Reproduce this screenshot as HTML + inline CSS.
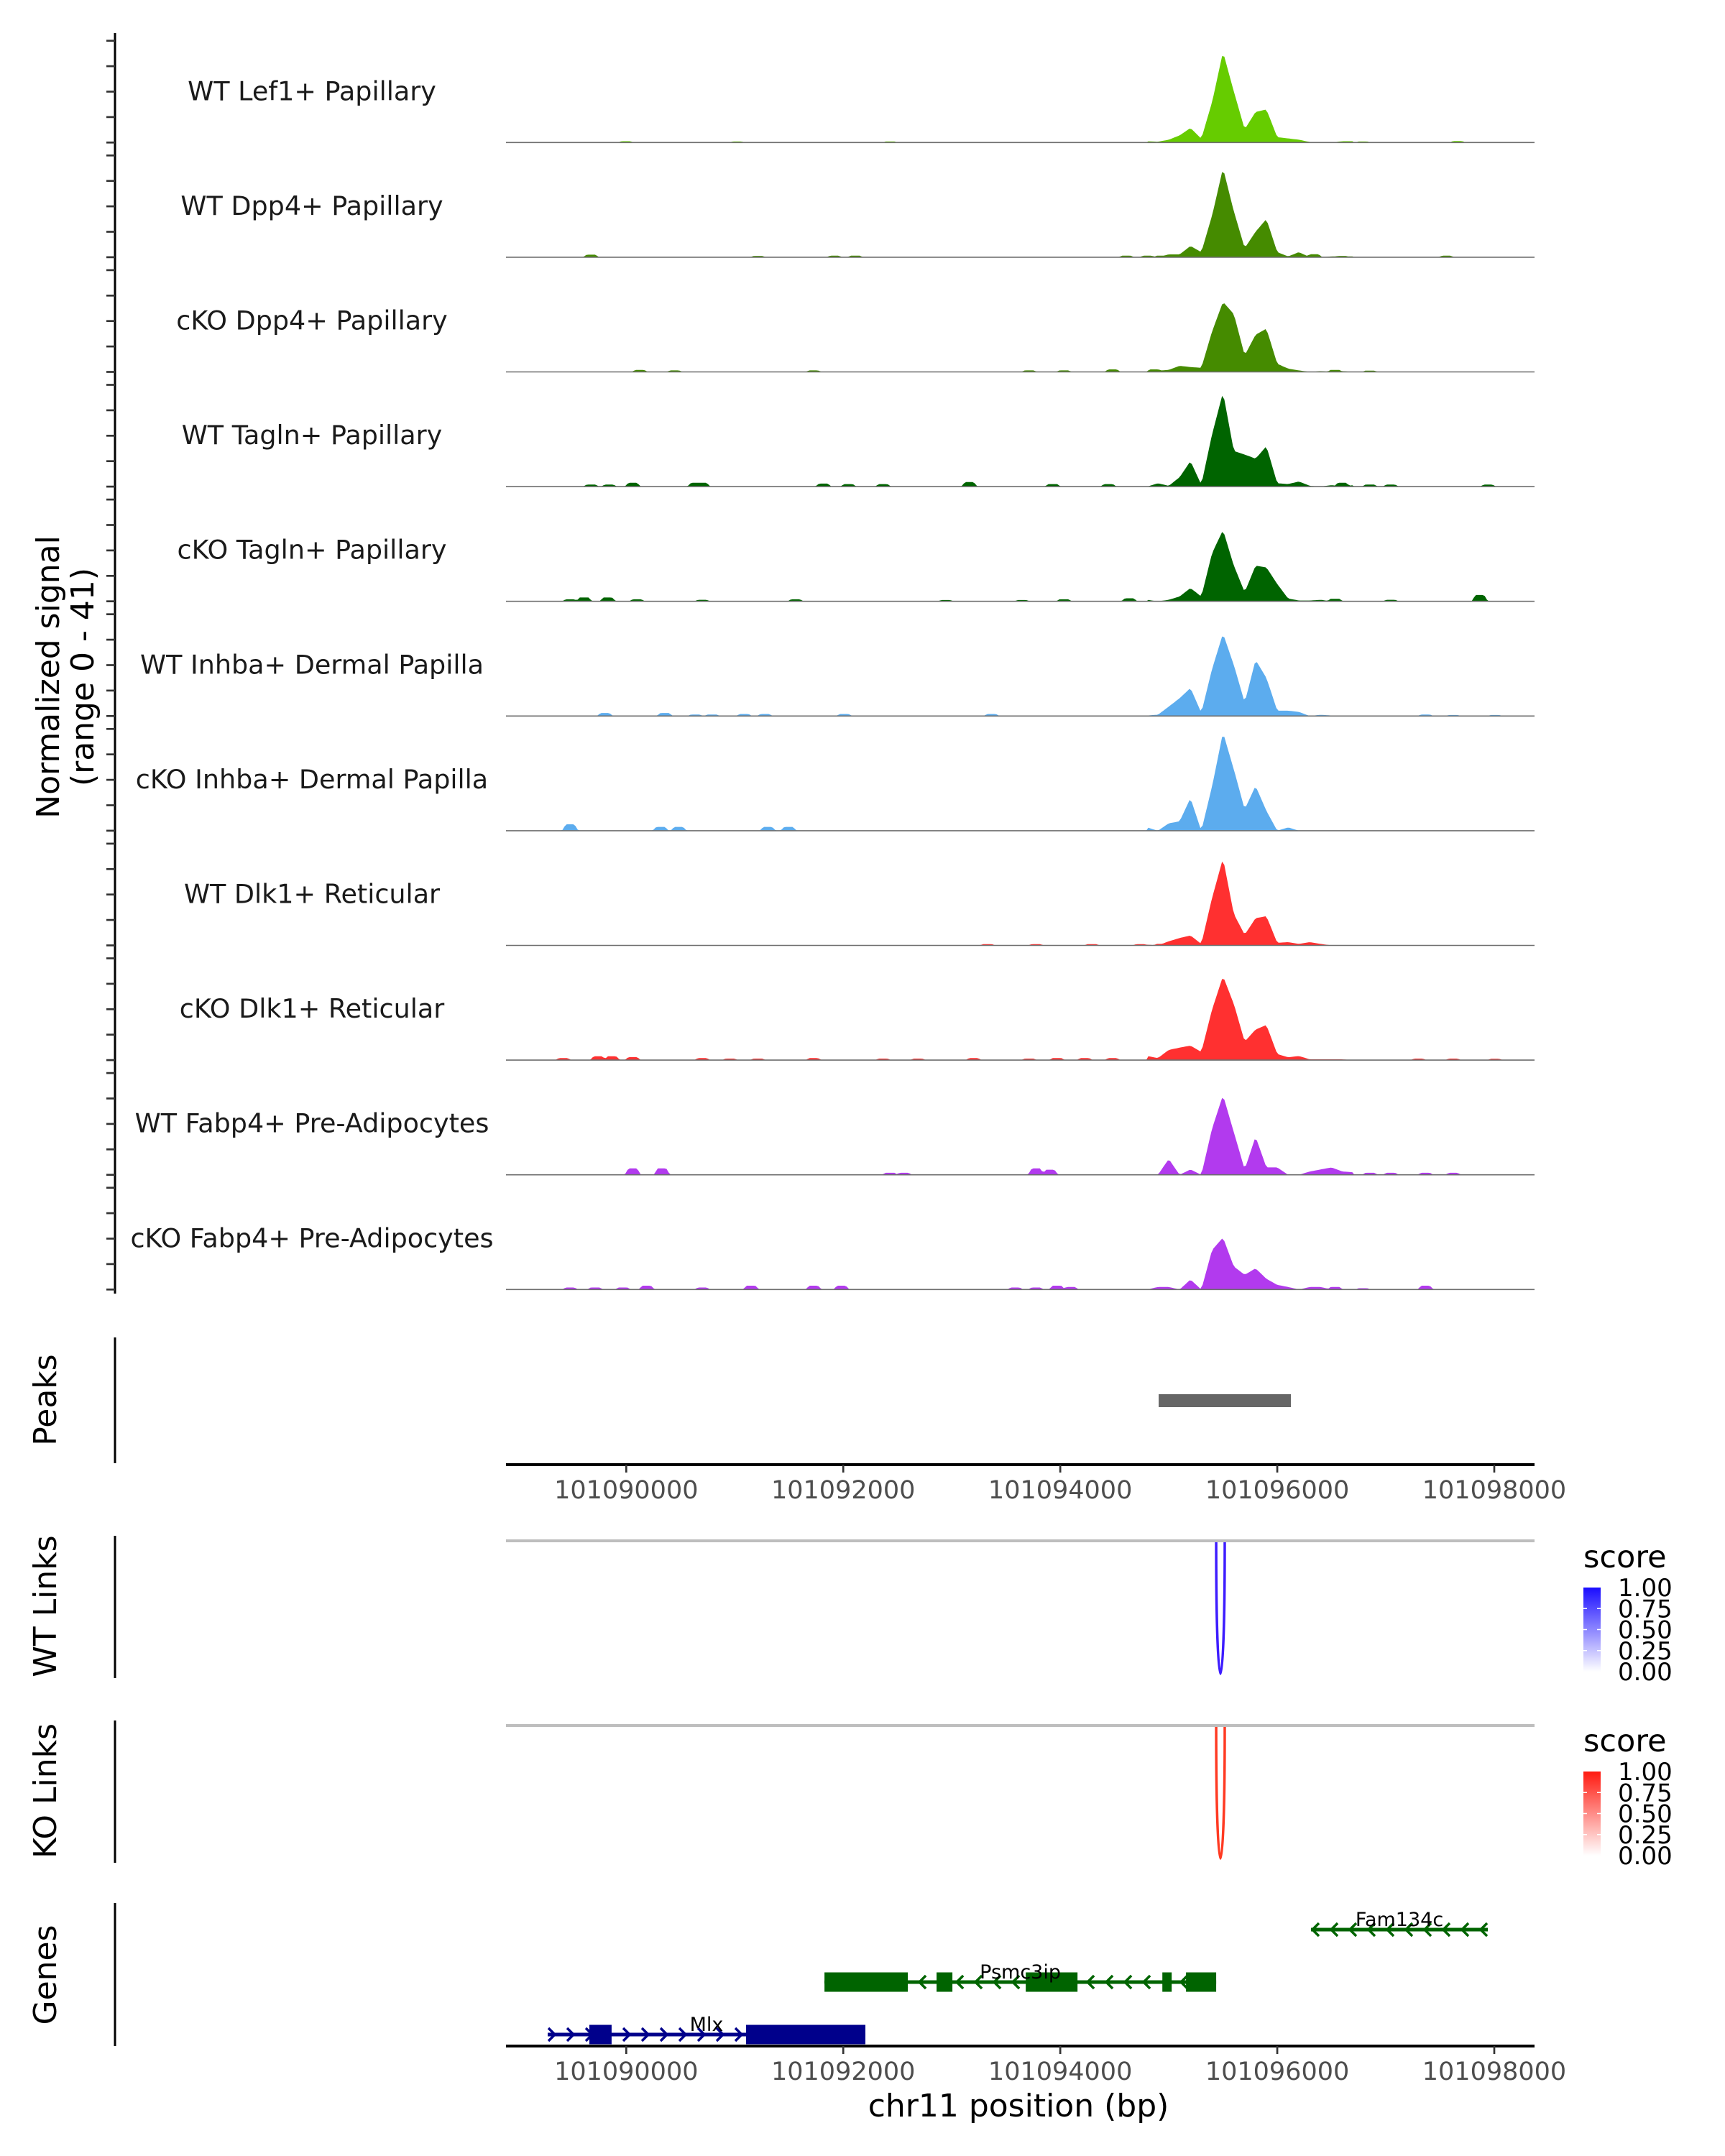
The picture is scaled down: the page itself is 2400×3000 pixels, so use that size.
<!DOCTYPE html>
<html><head><meta charset="utf-8"><title>Coverage plot chr11</title>
<style>html,body{margin:0;padding:0;background:#fff}svg{display:block}text{font-family:"DejaVu Sans","Liberation Sans",sans-serif}</style>
</head><body>
<svg id="chart" xmlns="http://www.w3.org/2000/svg" width="2400" height="3000" viewBox="0 0 2400 3000">
<defs>
<linearGradient id="gBlue" x1="0" y1="1" x2="0" y2="0"><stop offset="0" stop-color="#ffffff"/><stop offset="1" stop-color="#1a0dff"/></linearGradient>
<linearGradient id="gRed" x1="0" y1="1" x2="0" y2="0"><stop offset="0" stop-color="#ffffff"/><stop offset="1" stop-color="#ff1a10"/></linearGradient>
</defs>
<g id="tracks"></g>
<text transform="translate(82,942) rotate(-90)" text-anchor="middle" font-size="44">Normalized signal</text>
<text transform="translate(130,942) rotate(-90)" text-anchor="middle" font-size="44">(range 0 - 41)</text>
<g id="lower"></g>
</svg>
<script>
// ---------- data ----------
const trackNames = ["WT Lef1+ Papillary","WT Dpp4+ Papillary","cKO Dpp4+ Papillary","WT Tagln+ Papillary","cKO Tagln+ Papillary","WT Inhba+ Dermal Papilla","cKO Inhba+ Dermal Papilla","WT Dlk1+ Reticular","cKO Dlk1+ Reticular","WT Fabp4+ Pre-Adipocytes","cKO Fabp4+ Pre-Adipocytes"];
const trackColors = ["#66cc00","#458b00","#458b00","#006400","#006400","#5cacee","#5cacee","#ff3030","#ff3030","#b23aee","#b23aee"];
const coreStart = 101094800;
const coreStep = 100;
const core0 = [0.5,0.3,1.1,2.8,5.7,1.5,16,35.6,20,5.2,12,13,2.1,1.6,1.1,0.2,0,0,0.5,0.5];
const core1 = [0.3,0,1.1,1.1,4.4,2,16.5,35,18,3.6,10,15,2,0.3,2,0,0,0.3,0.3,0.3];
const core2 = [0.6,0.5,0.8,2.4,1.9,1.6,16,27.5,22.7,6.5,14.6,17,3.2,1.3,0.6,0,0.3,0,0.3,0];
const core3 = [0,1.3,0.3,3.7,10,0.8,20.7,37,14,12.6,11,15.9,1.3,1,2,0.3,0,0.6,0,0.6];
const core4 = [0.6,0,0.6,1.9,5.2,1.9,19,28,14,3.6,14,13.3,6.8,1.1,0.3,0.3,0.6,0,0,0];
const core5 = [0.2,0.5,3.7,7,11,1.3,18.6,32.4,20,5.3,22,15,2.1,2.1,1.6,0,0.5,0.2,0,0];
const core6 = [1.3,0,2.9,3.7,12.8,0,17.6,38.6,24,8.4,17.6,7.8,0,1.3,0,0,0,0,0,0];
const core7 = [0.3,0,1.6,2.9,3.9,0.6,18.8,34.2,12.3,4.2,10.7,11.5,1,1.3,0.6,1.3,0.6,0,0,0];
const core8 = [1.6,0.8,4,4.9,5.7,3.2,20,33,22,7.3,12,13.8,2.4,1.1,1.6,0.3,0.3,0.3,0.3,0];
const core9 = [0,0,6.2,0,2.1,0,18.3,31.3,16.7,2.1,15,2.9,2.9,0,0,1.3,2.1,2.9,1.3,1];
const core10 = [0,1,1,0,3.9,0,15.6,20.4,9,5.8,8.3,4.2,1.8,1,0,1,1,0,0,0];
const coreValues = [core0,core1,core2,core3,core4,core5,core6,core7,core8,core9,core10];
const bumpPos0 = [101089996,101091021,101092431,101096790,101097661];
const bumpVal0 = [0.5,0.4,0.4,0.4,0.6];
const bumpPos1 = [101089676,101091214,101091919,101092111,101094610,101094803,101094931,101096341,101096597,101097558];
const bumpVal1 = [1,0.5,0.6,0.6,0.6,0.6,0.6,1.2,0.5,0.6];
const bumpPos2 = [101090124,101090445,101091727,101093713,101094034,101094482,101094867,101096533,101096854];
const bumpVal2 = [0.8,0.6,0.6,0.6,0.6,1,1,0.8,0.5];
const bumpPos3 = [101089676,101089842,101090060,101090637,101090701,101091817,101092047,101092367,101093162,101093931,101094444,101096597,101096854,101097046,101097943];
const bumpVal3 = [0.8,0.8,1.5,1.5,1.5,1.2,1,1,1.8,1,1,1.5,0.8,0.8,0.8];
const bumpPos4 = [101089483,101089612,101089829,101090099,101090701,101091560,101092944,101093649,101094034,101094636,101096533,101097046,101097866];
const bumpVal4 = [0.8,1.5,1.5,0.8,0.6,0.8,0.5,0.5,0.8,1.2,1,0.6,2.5];
const bumpPos5 = [101089804,101090355,101090637,101090791,101091086,101091278,101092009,101093367,101097366,101097622,101098007];
const bumpVal5 = [1.2,1.2,0.6,0.6,0.8,0.8,0.8,0.8,0.6,0.4,0.4];
const bumpPos6 = [101089483,101090317,101090483,101091304,101091496];
const bumpVal6 = [2.5,1.5,1.5,1.5,1.5];
const bumpPos7 = [101093329,101093777,101094290,101094739,101094931];
const bumpVal7 = [0.5,0.5,0.5,0.5,0.6];
const bumpPos8 = [101089419,101089740,101089868,101090060,101090701,101090957,101091214,101091727,101092367,101092688,101093201,101093713,101093970,101094226,101094482,101097302,101097622,101098007];
const bumpVal8 = [0.8,1.5,1.5,1.2,0.8,0.6,0.6,0.8,0.6,0.6,0.8,0.6,0.8,0.8,0.8,0.6,0.6,0.5];
const bumpPos9 = [101090060,101090329,101092431,101092560,101093777,101093906,101096597,101096854,101097046,101097366,101097622];
const bumpVal9 = [2.5,2.5,0.8,0.8,2.5,2,1,0.8,0.8,0.8,0.8];
const bumpPos10 = [101089483,101089714,101089970,101090188,101090701,101091150,101091727,101091983,101093585,101093777,101093970,101094098,101096533,101096790,101097366];
const bumpVal10 = [0.8,0.8,0.8,1.5,0.8,1.5,1.5,1.5,0.8,0.8,1.5,1,1,0.5,1.5];
const bumpPositions = [bumpPos0,bumpPos1,bumpPos2,bumpPos3,bumpPos4,bumpPos5,bumpPos6,bumpPos7,bumpPos8,bumpPos9,bumpPos10];
const bumpValues = [bumpVal0,bumpVal1,bumpVal2,bumpVal3,bumpVal4,bumpVal5,bumpVal6,bumpVal7,bumpVal8,bumpVal9,bumpVal10];
const xTicks = [101090000,101092000,101094000,101096000,101098000];
const xTickLabels = ["101090000","101092000","101094000","101096000","101098000"];
const peakStarts = [101094907];
const peakEnds = [101096126];
const linkStartWT = [101095437];
const linkEndWT = [101095516];
const linkScoreWT = [1.0];
const linkStartKO = [101095437];
const linkEndKO = [101095516];
const linkScoreKO = [1.0];
const legendTicks = [0,0.25,0.5,0.75,1];
const legendLabels = ["0.00","0.25","0.50","0.75","1.00"];
const geneNames = ["Fam134c","Psmc3ip","Mlx"];
const geneStrands = ["-","-","+"];
const geneStarts = [101096311,101091827,101089276];
const geneEnds = [101097941,101095437,101092204];
const geneRows = [0,1,2];
const exonGene = [1,1,1,1,1,2,2];
const exonStarts = [101091827,101092860,101093682,101094941,101095159,101089660,101091104];
const exonEnds = [101092595,101093006,101094159,101095027,101095437,101089865,101092204];

// ---------- scales ----------
const NS = "http://www.w3.org/2000/svg";
const X0 = 704, X1 = 2135;
const xScale = bp => 871.3 + (bp - 101090000) * 0.15096;
const bpMin = 101090000 + (X0 - 871.3) / 0.15096;
const bpMax = 101090000 + (X1 - 871.3) / 0.15096;
const baseY = i => 198.3 + i * 159.6;
const unitPx = 3.54;
function mk(tag, attrs, parent) { const e = document.createElementNS(NS, tag); for (const k in attrs) e.setAttribute(k, attrs[k]); parent.appendChild(e); return e; }

function signalAt(t, bp) {
  let v = 0;
  const c = coreValues[t];
  const f = (bp - coreStart) / coreStep;
  if (f >= 0 && f <= c.length - 1) {
    const i = Math.floor(f), r = f - i;
    v = c[i] * (1 - r) + (i + 1 < c.length ? c[i + 1] : 0) * r;
  }
  const bp_ = bumpPositions[t], bv = bumpValues[t];
  for (let k = 0; k < bp_.length; k++) {
    const d = Math.abs(bp - bp_[k]);
    let h = 0;
    if (d <= 40) h = bv[k]; else if (d <= 75) h = bv[k] * (75 - d) / 35;
    if (h > v) v = h;
  }
  return v;
}

// ---------- tracks ----------
const tracksG = document.getElementById('tracks');
const yAxis = mk('line', {x1:160, y1:46, x2:160, y2:1800, stroke:'#000', 'stroke-width':3}, tracksG);


for (let t = 0; t < trackNames.length; t++) {
  const by = baseY(t);
  const g = mk('g', {}, tracksG);
  
  
  for (let k = 0; k <= 4; k++) {
    const tk = mk('line', {x1:148, x2:160, y1:by - k * 35.4, y2:by - k * 35.4, stroke:'#333', 'stroke-width':2.7}, g);
    
    
  }
  const lab = mk('text', {x:434, y:by - 59, 'text-anchor':'middle', 'font-size':36.5, fill:'#1a1a1a'}, g);
  lab.textContent = trackNames[t];
  
  
  let d = 'M' + X0 + ',' + by;
  for (let bp = bpMin; bp <= bpMax; bp += 20) {
    d += 'L' + xScale(bp).toFixed(1) + ',' + (by - signalAt(t, bp) * unitPx).toFixed(1);
  }
  d += 'L' + X1 + ',' + by + 'Z';
  const area = mk('path', {d:d, fill:trackColors[t]}, g);
  
  
  const bl = mk('line', {x1:X0, x2:X1, y1:by, y2:by, stroke:'#6e6e6e', 'stroke-width':1.6}, g);
  
  
}

// ---------- lower panels ----------
const L = document.getElementById('lower');
function sideLabel(txt, cy, name) {
  const e = mk('text', {transform:'translate(78,' + cy + ') rotate(-90)', 'text-anchor':'middle', 'font-size':44}, L);
  e.textContent = txt;
  
  
}
function vAxis(y1, y2, name) {
  const e = mk('line', {x1:160, x2:160, y1:y1, y2:y2, stroke:'#000', 'stroke-width':3}, L);
  
  
}
function xAxis(y, name) {
  const g = mk('g', {}, L);
  
  
  mk('line', {x1:X0, x2:X1, y1:y, y2:y, stroke:'#000', 'stroke-width':4}, g);
  for (let i = 0; i < xTicks.length; i++) {
    const x = xScale(xTicks[i]);
    const tk = mk('line', {x1:x, x2:x, y1:y, y2:y + 11, stroke:'#333', 'stroke-width':2.7}, g);
    
    
    const lb = mk('text', {x:x, y:y + 47, 'text-anchor':'middle', 'font-size':35, fill:'#4d4d4d'}, g);
    lb.textContent = xTickLabels[i];
    
    
  }
}
// Peaks
sideLabel('Peaks', 1948, 'peaks-label');
vAxis(1861, 2036, 'peaks-axis-line');
for (let i = 0; i < peakStarts.length; i++) {
  const r = mk('rect', {x:xScale(peakStarts[i]), y:1940, width:xScale(peakEnds[i]) - xScale(peakStarts[i]), height:18, fill:'#666666'}, L);
  
  
}
xAxis(2038, 'peaks-x-axis');

// Links
function links(starts, ends, scores, topY, botY, color, grad, legY, labelTxt, cy, pre) {
  sideLabel(labelTxt, cy, pre + '-links-label');
  vAxis(topY - 7, botY + 8, pre + '-links-axis-line');
  const gl = mk('line', {x1:X0, x2:X1, y1:topY, y2:topY, stroke:'#bebebe', 'stroke-width':4}, L);
  
  
  for (let i = 0; i < starts.length; i++) {
    const a = xScale(starts[i]), b = xScale(ends[i]);
    const depth = (botY - topY) * scores[i];
    const cyy = topY + 2 + depth / 0.75;
    const p = mk('path', {d:'M' + a + ',' + (topY + 2) + ' C' + a + ',' + cyy + ' ' + b + ',' + cyy + ' ' + b + ',' + (topY + 2), fill:'none', stroke:color, 'stroke-width':3.5}, L);
    
    
  }
  const lg = mk('g', {}, L);
  
  
  const tt = mk('text', {x:2203, y:legY, 'font-size':43}, lg);
  tt.textContent = 'score';
  const barTop = legY + 28, barBot = legY + 145;
  mk('rect', {x:2203, y:barTop, width:24, height:barBot - barTop, fill:'url(#' + grad + ')'}, lg);
  for (let i = 0; i < legendTicks.length; i++) {
    const y = barBot - legendTicks[i] * (barBot - barTop);
    if (legendTicks[i] > 0 && legendTicks[i] < 1) {
      mk('line', {x1:2203, x2:2208, y1:y, y2:y, stroke:'#fff', 'stroke-width':1.5}, lg);
      mk('line', {x1:2222, x2:2227, y1:y, y2:y, stroke:'#fff', 'stroke-width':1.5}, lg);
    }
    const lb = mk('text', {x:2251, y:y + 12, 'font-size':34}, lg);
    lb.textContent = legendLabels[i];
    
    
  }
}
links(linkStartWT, linkEndWT, linkScoreWT, 2144, 2327, '#3d1cff', 'gBlue', 2181, 'WT Links', 2235, 'wt');
links(linkStartKO, linkEndKO, linkScoreKO, 2401, 2584, '#ff3a22', 'gRed', 2437, 'KO Links', 2492, 'ko');

// Genes
sideLabel('Genes', 2748, 'genes-label');
vAxis(2648, 2847, 'genes-axis-line');
const rowY = [2685, 2758, 2831];
const geneColor = g => geneStrands[g] === '+' ? '#00008b' : '#006400';
for (let g = 0; g < geneNames.length; g++) {
  const gg = mk('g', {}, L);
  
  
  const y = rowY[geneRows[g]], col = geneColor(g);
  const a = xScale(geneStarts[g]), b = xScale(geneEnds[g]);
  mk('line', {x1:a, x2:b, y1:y, y2:y, stroke:col, 'stroke-width':5}, gg);
  for (let x = a + 6; x < b - 4; x += 26) {
    const dir = geneStrands[g] === '+' ? 1 : -1;
    mk('path', {d:'M' + (x - dir * 5) + ',' + (y - 9) + ' L' + (x + dir * 4) + ',' + y + ' L' + (x - dir * 5) + ',' + (y + 9), fill:'none', stroke:col, 'stroke-width':3.5}, gg);
  }
  for (let e = 0; e < exonGene.length; e++) {
    if (exonGene[e] !== g) continue;
    const r = mk('rect', {x:xScale(exonStarts[e]), y:y - 13.5, width:xScale(exonEnds[e]) - xScale(exonStarts[e]), height:27, fill:col}, gg);
    
    
  }
  const lb = mk('text', {x:(a + b) / 2, y:y - 5, 'text-anchor':'middle', 'font-size':27, fill:'#000'}, gg);
  lb.textContent = geneNames[g];
  
  
}
xAxis(2847, 'genes-x-axis');
const xt = mk('text', {x:1417, y:2945, 'text-anchor':'middle', 'font-size':44}, L);
xt.textContent = 'chr11 position (bp)';


</script>
</body></html>
